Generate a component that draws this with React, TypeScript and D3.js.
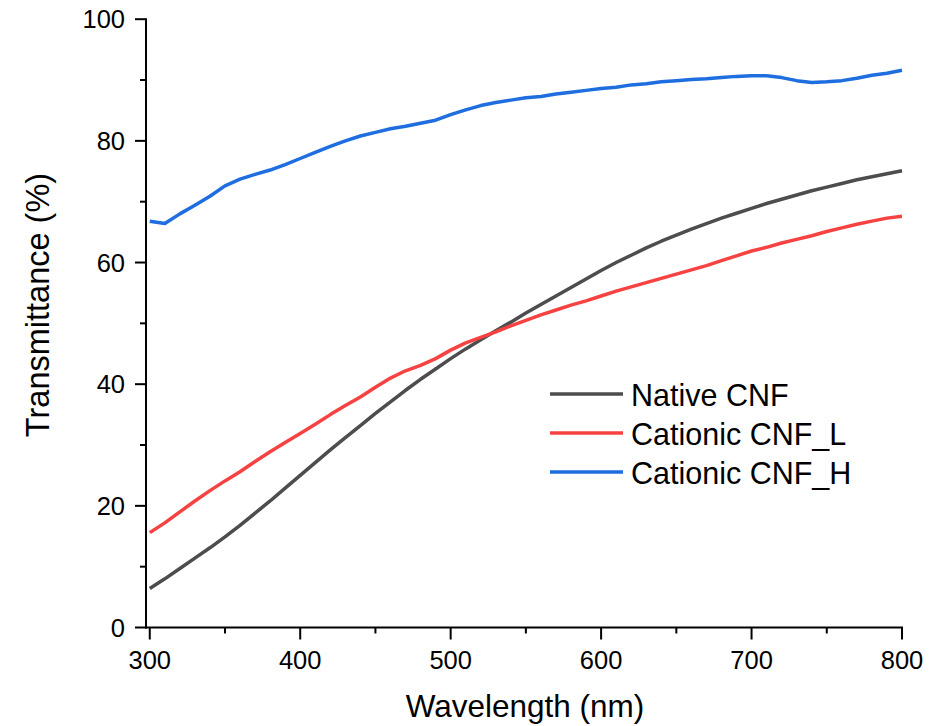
import React from "react";
import * as d3 from "d3";

const wavelengths = [300,310,320,330,340,350,360,370,380,390,400,410,420,430,440,450,460,470,480,490,500,510,520,530,540,550,560,570,580,590,600,610,620,630,640,650,660,670,680,690,700,710,720,730,740,750,760,770,780,790,800];

const nativeCNF = [6.4,8.0,9.7,11.4,13.1,14.9,16.8,18.8,20.8,22.9,25.0,27.1,29.2,31.2,33.2,35.2,37.1,39.0,40.8,42.5,44.2,45.8,47.3,48.8,50.2,51.7,53.1,54.5,55.9,57.3,58.7,60.0,61.2,62.4,63.5,64.5,65.5,66.4,67.3,68.1,68.9,69.7,70.4,71.1,71.8,72.4,73.0,73.6,74.1,74.6,75.1];

const cationicL = [15.6,17.2,19.0,20.8,22.5,24.1,25.6,27.3,28.9,30.4,31.9,33.4,35.0,36.5,37.9,39.5,41.0,42.2,43.1,44.2,45.6,46.8,47.7,48.6,49.6,50.5,51.4,52.2,53.0,53.7,54.5,55.3,56.0,56.7,57.4,58.1,58.8,59.5,60.3,61.1,61.9,62.5,63.2,63.8,64.4,65.1,65.7,66.3,66.8,67.3,67.6];

const cationicH = [66.8,66.4,68.0,69.4,70.9,72.6,73.7,74.5,75.2,76.1,77.1,78.1,79.1,80.0,80.8,81.4,82.0,82.4,82.9,83.4,84.3,85.1,85.8,86.3,86.7,87.1,87.3,87.7,88.0,88.3,88.6,88.8,89.2,89.4,89.7,89.9,90.1,90.2,90.4,90.6,90.7,90.7,90.4,89.9,89.6,89.7,89.9,90.3,90.8,91.1,91.6];

const seriesNames = ["Native CNF", "Cationic CNF_L", "Cationic CNF_H"];
const seriesColors = ["#4d4d4d", "#f74242", "#1f6ee0"];
const seriesValues = [nativeCNF, cationicL, cationicH];

const xMajorTicks = [300, 400, 500, 600, 700, 800];
const xMinorTicks = [350, 450, 550, 650, 750];
const yMajorTicks = [0, 20, 40, 60, 80, 100];
const yMinorTicks = [10, 30, 50, 70, 90];

const xLabel = "Wavelength (nm)";
const yLabel = "Transmittance (%)";

export default function App() {
  const W = 934, H = 726;
  const x = d3.scaleLinear().domain([297.5, 800]).range([146, 902]);
  const y = d3.scaleLinear().domain([0, 100]).range([627.5, 19.2]);
  const font = "'Liberation Sans', Arial, sans-serif";

  const line = d3.line<number>()
    .x((_, i) => x(wavelengths[i]))
    .y((d) => y(d));

  const x0 = x.range()[0];
  const y0 = y.range()[0];

  return (
    <svg width={W} height={H} style={{ position: "absolute", left: 0, top: 0, background: "#fff" }} fontFamily={font}>
      <defs>
        <clipPath id="plot">
          <rect x={x0} y={y(100) - 5} width={x(800) - x0 + 5} height={y0 - y(100) + 5} />
        </clipPath>
      </defs>
      <g clipPath="url(#plot)">
        {seriesValues.map((vals, k) => (
          <path key={k} d={line(vals) || ""} fill="none" stroke={seriesColors[k]} strokeWidth={3.5} strokeLinejoin="round" />
        ))}
      </g>
      <line x1={x0} x2={x0} y1={y(100) - 1} y2={y0 + 1} stroke="#000" strokeWidth={2} />
      <line x1={x0 - 1} x2={x(800) + 1} y1={y0} y2={y0} stroke="#000" strokeWidth={2} />
      {xMajorTicks.map((t) => (
        <g key={"xm" + t}>
          <line x1={x(t)} x2={x(t)} y1={y0} y2={y0 + 12} stroke="#000" strokeWidth={2} />
          <text x={x(t)} y={y0 + 32} textAnchor="middle" dominantBaseline="central" fontSize={25.5}>{t}</text>
        </g>
      ))}
      {xMinorTicks.map((t) => (
        <line key={"xn" + t} x1={x(t)} x2={x(t)} y1={y0} y2={y0 + 6} stroke="#000" strokeWidth={2} />
      ))}
      {yMajorTicks.map((t) => (
        <g key={"ym" + t}>
          <line x1={x0} x2={x0 - 11} y1={y(t)} y2={y(t)} stroke="#000" strokeWidth={2} />
          <text x={x0 - 21} y={y(t)} textAnchor="end" dominantBaseline="central" fontSize={25.5}>{t}</text>
        </g>
      ))}
      {yMinorTicks.map((t) => (
        <line key={"yn" + t} x1={x0} x2={x0 - 6} y1={y(t)} y2={y(t)} stroke="#000" strokeWidth={2} />
      ))}
      <text x={525} y={706} textAnchor="middle" dominantBaseline="central" fontSize={31.5}>{xLabel}</text>
      <text transform="translate(38,305) rotate(-90)" textAnchor="middle" dominantBaseline="central" fontSize={32.5}>{yLabel}</text>
      {seriesNames.map((n, k) => {
        const ly = 394 + k * 39;
        return (
          <g key={n}>
            <line x1={550} x2={623} y1={ly} y2={ly} stroke={seriesColors[k]} strokeWidth={3.5} />
            <text x={631} y={ly + 1} dominantBaseline="central" fontSize={30.5}>{n}</text>
          </g>
        );
      })}
    </svg>
  );
}
